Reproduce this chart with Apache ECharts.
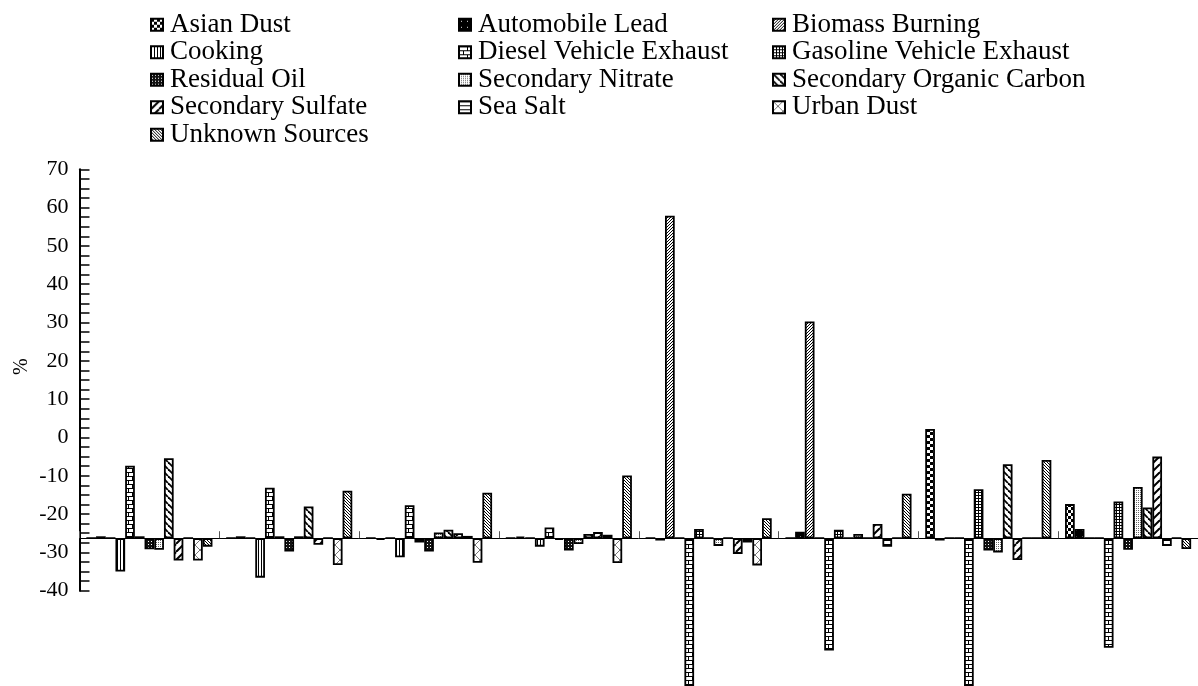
<!DOCTYPE html>
<html>
<head>
<meta charset="utf-8">
<title>Source contribution change</title>
<script src="https://cdn.jsdelivr.net/npm/echarts@6.0.0/dist/echarts.min.js"></script>
<style>
  html, body { margin: 0; padding: 0; background: #fff; }
  #container { width: 1198px; height: 686px; }
</style>
</head>
<body>
<div id="container"></div>
<script>
// groups along the x axis (no labels printed in the original)
var groups = ['1', '2', '3', '4', '5', '6', '7', '8'];

var sourceNames = [
    'Asian Dust', 'Automobile Lead', 'Biomass Burning',
    'Cooking', 'Diesel Vehicle Exhaust', 'Gasoline Vehicle Exhaust',
    'Residual Oil', 'Secondary Nitrate', 'Secondary Organic Carbon',
    'Secondary Sulfate', 'Sea Salt', 'Urban Dust',
    'Unknown Sources'
];

// bar lengths measured from the baseline, in units of the printed % axis
var asianDust        = [0, 0, 0, 0, 0, 0, 28.5, 8.9];
var automobileLead   = [0.5, 0.5, -0.4, 0.4, -0.6, 1.7, -0.6, 2.4];
var biomassBurning   = [0, 0, 0, 0, 84.2, 56.6, 0, 0];
var cooking          = [-8.7, -10.3, -5.0, -2.2, 0, 0, 0, 0];
var dieselExhaust    = [18.9, 13.2, 8.6, 2.8, -38.8, -29.3, -38.8, -28.6];
var gasolineExhaust  = [0.5, 0.5, -1.1, -0.4, 2.4, 2.2, 12.8, 9.6];
var residualOil      = [-2.9, -3.5, -3.5, -3.2, 0, 0, -3.2, -3.0];
var secondaryNitrate = [-3.0, 0.5, 1.5, -1.5, -2.0, 1.1, -3.7, 13.4];
var secondaryOC      = [20.9, 8.3, 2.2, 1.1, 0, 0, 19.3, 8.0];
var secondarySulfate = [-5.8, -1.7, 1.3, 1.6, -4.1, 3.7, -5.7, 21.3];
var seaSalt          = [0, 0, 0.6, 0.9, -1.1, -2.2, 0, -2.0];
var urbanDust        = [-5.8, -7.0, -6.4, -6.5, -7.1, 0, 0, 0];
var unknownSources   = [-2.2, 12.4, 11.9, 16.4, 5.2, 11.6, 20.4, -2.8];

// printed y axis and the level on it where the bars start
var yMin = -40;
var yMax = 70;
var yLabelStep = 10;
var baseLevel = -26.3;

var legendCols = [
    ['Asian Dust', 'Cooking', 'Residual Oil', 'Secondary Sulfate', 'Unknown Sources'],
    ['Automobile Lead', 'Diesel Vehicle Exhaust', 'Secondary Nitrate', 'Sea Salt'],
    ['Biomass Burning', 'Gasoline Vehicle Exhaust', 'Secondary Organic Carbon', 'Urban Dust']
];

function tile(w, h, draw) {
    var c = document.createElement('canvas');
    c.width = w;
    c.height = h;
    var ctx = c.getContext('2d');
    ctx.fillStyle = '#fff';
    ctx.fillRect(0, 0, w, h);
    draw(ctx, w, h);
    return { image: c, repeat: 'repeat' };
}

function hatch(ctx, s, dir, width, color) {
    ctx.strokeStyle = color;
    ctx.lineWidth = width;
    for (var k = -1; k <= 1; k++) {
        ctx.beginPath();
        if (dir > 0) {
            ctx.moveTo(k * s, s);
            ctx.lineTo(k * s + s, 0);
        } else {
            ctx.moveTo(k * s, 0);
            ctx.lineTo(k * s + s, s);
        }
        ctx.stroke();
    }
}

function makePatterns() {
    return [
        // asian dust: checker
        tile(6, 6, function (ctx) {
            ctx.fillStyle = '#000';
            ctx.fillRect(0, 0, 3, 3);
            ctx.fillRect(3, 3, 3, 3);
        }),
        // automobile lead: black with sparse dots
        tile(6, 6, function (ctx) {
            ctx.fillStyle = '#000';
            ctx.fillRect(0, 0, 6, 6);
            ctx.fillStyle = '#fff';
            ctx.fillRect(2, 2, 1, 1);
        }),
        // biomass burning: dense /
        tile(3, 3, function (ctx, s) { hatch(ctx, s, 1, 1, '#000'); }),
        // cooking: vertical lines
        tile(3, 1, function (ctx) {
            ctx.fillStyle = '#000';
            ctx.fillRect(0, 0, 1, 1);
        }),
        // diesel: bricks
        tile(8, 8, function (ctx) {
            ctx.fillStyle = '#000';
            ctx.fillRect(0, 0, 8, 1);
            ctx.fillRect(0, 4, 8, 1);
            ctx.fillRect(0, 0, 1, 4);
            ctx.fillRect(4, 4, 1, 4);
        }),
        // gasoline: fine grid
        tile(3, 3, function (ctx) {
            ctx.fillStyle = '#000';
            ctx.fillRect(0, 0, 3, 1);
            ctx.fillRect(0, 0, 1, 3);
        }),
        // residual oil: dark with white dots
        tile(3, 3, function (ctx) {
            ctx.fillStyle = '#111';
            ctx.fillRect(0, 0, 3, 3);
            ctx.fillStyle = '#fff';
            ctx.fillRect(1, 1, 1, 1);
        }),
        // secondary nitrate: light dots
        tile(2, 2, function (ctx) {
            ctx.fillStyle = '#666';
            ctx.fillRect(0, 0, 1, 1);
        }),
        // secondary organic carbon: wide \
        tile(7, 7, function (ctx, s) { hatch(ctx, s, -1, 1.8, '#000'); }),
        // secondary sulfate: wide /
        tile(8, 8, function (ctx, s) { hatch(ctx, s, 1, 2, '#000'); }),
        // sea salt: horizontal lines
        tile(1, 4, function (ctx) {
            ctx.fillStyle = '#000';
            ctx.fillRect(0, 0, 1, 1);
        }),
        // urban dust: light cross hatch
        tile(10, 10, function (ctx, s) {
            hatch(ctx, s, 1, 1, '#777');
            hatch(ctx, s, -1, 1, '#777');
        }),
        // unknown sources: dense \
        tile(3, 3, function (ctx, s) { hatch(ctx, s, -1, 1, '#000'); })
    ];
}

function getOption() {
    var seriesData = [
        asianDust, automobileLead, biomassBurning, cooking, dieselExhaust,
        gasolineExhaust, residualOil, secondaryNitrate, secondaryOC,
        secondarySulfate, seaSalt, urbanDust, unknownSources
    ];
    var patterns = makePatterns();
    var font = 'Liberation Serif';

    var legendLeft = [150, 458, 772];
    var legends = legendCols.map(function (col, i) {
        return {
            orient: 'vertical',
            left: legendLeft[i],
            top: 11,
            padding: 0,
            itemGap: 0,
            itemWidth: 12,
            itemHeight: 12,
            icon: 'rect',
            selectedMode: false,
            data: col,
            textStyle: {
                fontFamily: font,
                fontSize: 27,
                lineHeight: 27.5,
                color: '#000',
                padding: [0, 0, 0, 2]
            }
        };
    });

    var series = sourceNames.map(function (name, i) {
        return {
            name: name,
            type: 'bar',
            xAxisIndex: 1,
            yAxisIndex: 1,
            data: seriesData[i],
            barGap: '0%',
            barCategoryGap: '9.8%',
            clip: false,
            itemStyle: {
                color: patterns[i],
                borderColor: '#000',
                borderWidth: 1.8
            },
            emphasis: { disabled: true }
        };
    });

    return {
        animation: false,
        backgroundColor: '#fff',
        legend: legends,
        grid: [
            { left: 79.5, top: 169.3, width: 1124, height: 421.4 },
            { left: 79.5, top: 169.3, width: 1124, height: 421.4 }
        ],
        xAxis: [
            { gridIndex: 0, type: 'category', data: groups, show: false },
            {
                gridIndex: 1,
                type: 'category',
                data: groups,
                axisLine: { onZero: true, lineStyle: { color: '#000', width: 1 } },
                axisTick: { show: true, inside: true, length: 7, lineStyle: { color: '#555', width: 1 } },
                axisLabel: { show: false },
                splitLine: { show: false }
            }
        ],
        yAxis: [
            {
                gridIndex: 0,
                type: 'value',
                min: yMin,
                max: yMax,
                interval: yLabelStep / 4,
                axisLine: { show: true, lineStyle: { color: '#000', width: 2 } },
                axisTick: { show: true, inside: true, length: 10, lineStyle: { color: '#000', width: 1.5 } },
                axisLabel: {
                    margin: 11,
                    fontFamily: font,
                    fontSize: 22,
                    color: '#000',
                    formatter: function (v) {
                        return Math.abs(v % yLabelStep) < 1e-6 ? String(v) : '';
                    }
                },
                splitLine: { show: false }
            },
            {
                gridIndex: 1,
                type: 'value',
                min: yMin - baseLevel,
                max: yMax - baseLevel,
                show: false,
                splitLine: { show: false }
            }
        ],
        graphic: [
            {
                type: 'text',
                x: 12,
                y: 375,
                rotation: Math.PI / 2,
                style: { text: '%', fontFamily: font, fontSize: 20, fill: '#000' }
            }
        ],
        series: series
    };
}

var chart = echarts.init(document.getElementById('container'));
chart.setOption(getOption());
</script>
</body>
</html>
